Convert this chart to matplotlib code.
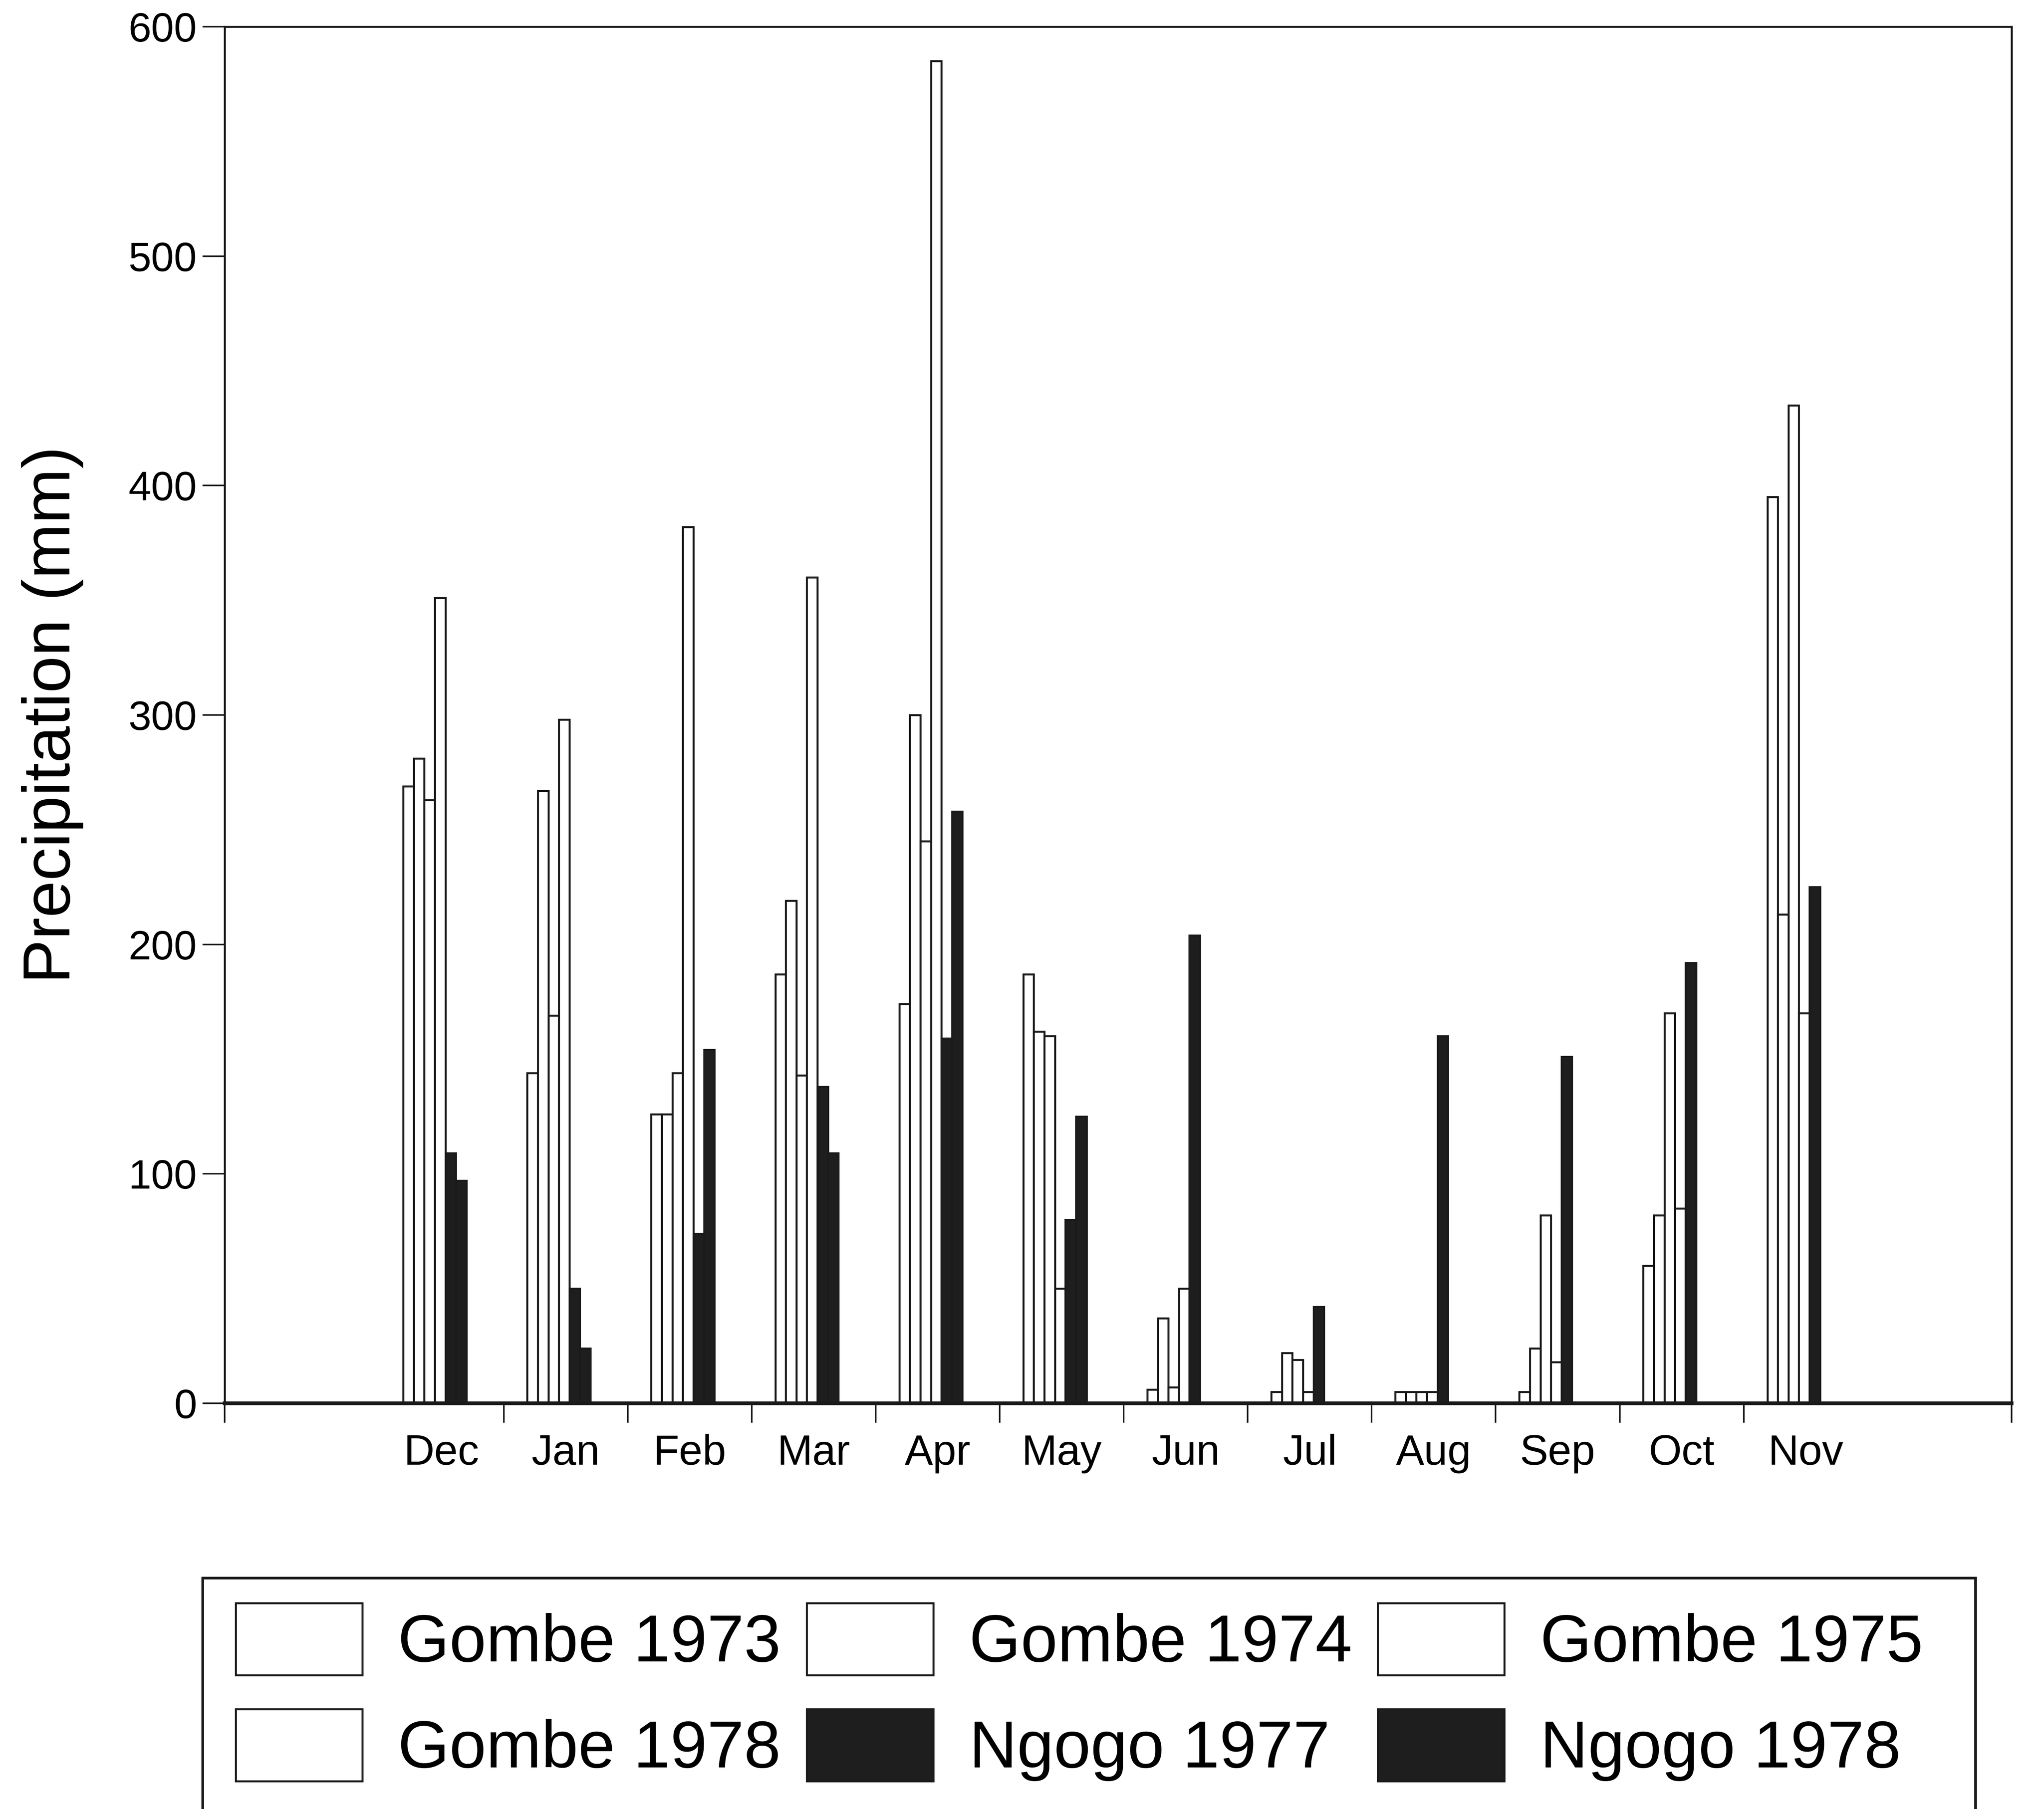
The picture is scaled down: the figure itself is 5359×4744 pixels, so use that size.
import numpy as np
import matplotlib.pyplot as plt
from matplotlib.patches import Rectangle

plt.rcParams['font.family'] = ['Liberation Sans', 'DejaVu Sans']

# Monthly rainfall (mm), Dec..Nov
months = ['Dec', 'Jan', 'Feb', 'Mar', 'Apr', 'May', 'Jun', 'Jul', 'Aug', 'Sep', 'Oct', 'Nov']
gombe_1973 = [269, 144, 126, 187, 174, 187, 6, 5, 5, 5, 60, 395]
gombe_1974 = [281, 267, 126, 219, 300, 162, 37, 22, 5, 24, 82, 213]
gombe_1975 = [263, 169, 144, 143, 245, 160, 7, 19, 5, 82, 170, 435]
gombe_1978 = [351, 298, 382, 360, 585, 50, 50, 5, 5, 18, 85, 170]
ngogo_1977 = [109, 50, 74, 138, 159, 80, 204, 42, 160, 151, 192, 225]
ngogo_1978 = [97, 24, 154, 109, 258, 125, np.nan, np.nan, np.nan, np.nan, np.nan, np.nan]

series_labels = ['Gombe 1973', 'Gombe 1974', 'Gombe 1975', 'Gombe 1978', 'Ngogo 1977', 'Ngogo 1978']
series_values = [gombe_1973, gombe_1974, gombe_1975, gombe_1978, ngogo_1977, ngogo_1978]
series_fill = ['white', 'white', 'white', 'white', '#1e1e1e', '#1e1e1e']

W, H, DPI = 5359, 4744, 500
fig = plt.figure(figsize=(W / DPI, H / DPI), dpi=DPI)
ax = fig.add_axes([589 / W, 1 - 3680 / H, (5274 - 589) / W, (3680 - 70) / H])

x = np.arange(len(months))
bar_w = 0.085
start = -0.31
ink = '#1a1a1a'
bars = []
for k, (lab, vals, face) in enumerate(zip(series_labels, series_values, series_fill)):
    b = ax.bar(x + start + bar_w * (k + 0.5), vals, width=bar_w, color=face,
               edgecolor=ink, linewidth=0.75, label=lab)
    bars.append(b)

xlo, xhi = -1.75, 12.66
ax.set_xlim(xlo, xhi)
ax.set_ylim(0, 600)

ax.set_xticks([xlo] + list(x[:-1] + 0.5) + [xhi])
ax.set_xticklabels([])
ax.set_xticks(x, minor=True)
ax.set_xticklabels(months, minor=True)
ax.tick_params(axis='x', which='major', length=7.3, width=0.6, color=ink, direction='out')
ax.tick_params(axis='x', which='minor', length=0, pad=11.5, labelsize=16)

ax.set_yticks(range(0, 601, 100))
ax.tick_params(axis='y', length=8.4, width=0.6, color=ink, pad=2, labelsize=15.5)

for side in ['left', 'right', 'top']:
    ax.spines[side].set_linewidth(0.75)
    ax.spines[side].set_color(ink)
ax.spines['bottom'].set_linewidth(1.4)
ax.spines['bottom'].set_color(ink)

ax.set_ylabel('Precipitation (mm)', fontsize=25)
ax.yaxis.set_label_coords(-0.079, 0.5)

# legend: filled row-wise, so reorder for matplotlib's column-wise filling
order = [0, 3, 1, 4, 2, 5]
fig.legend([bars[i] for i in order], [series_labels[i] for i in order], ncol=3,
           loc='upper left', bbox_to_anchor=(618 / W, 1 - 4204 / H),
           bbox_transform=fig.transFigure, frameon=False, fontsize=25,
           handlelength=1.91, handleheight=1.3, handletextpad=0.54,
           columnspacing=0.39, labelspacing=0.51, borderpad=0, borderaxespad=0)

# legend box runs off the bottom of the page
fig.add_artist(Rectangle((531 / W, -0.1), (5179 - 531) / W, (1 - 4138 / H) + 0.1,
                         transform=fig.transFigure, fill=False, edgecolor=ink, linewidth=1.0))

fig.savefig('out.png', dpi=DPI)
